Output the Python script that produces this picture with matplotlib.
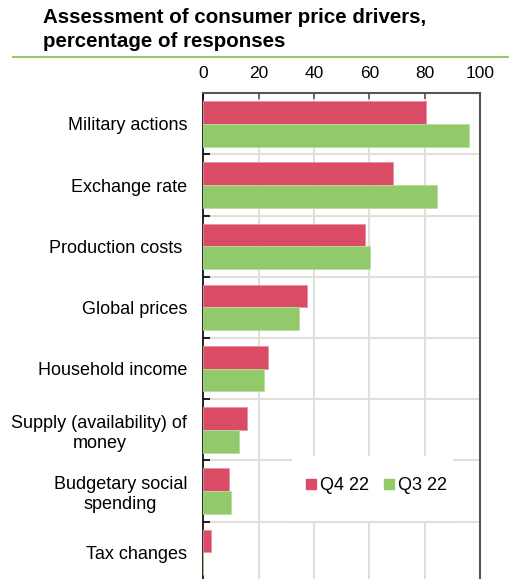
import numpy as np
import matplotlib
matplotlib.use('Agg')
from matplotlib import pyplot as plt
from matplotlib.lines import Line2D
from matplotlib.patches import Rectangle

plt.rcParams['font.family'] = ['Liberation Sans', 'DejaVu Sans']

categories = ['Military actions', 'Exchange rate', 'Production costs ', 'Global prices',
              'Household income', 'Supply (availability) of\nmoney',
              'Budgetary social\nspending', 'Tax changes']
q4_22 = [80.5, 68.7, 58.4, 37.6, 23.4, 15.7, 9.2, 2.7]
q3_22 = [96.1, 84.6, 60.2, 34.6, 21.8, 12.8, 10.1, 0.0]
series_names = ['Q4 22', 'Q3 22']
x_ticks = [0, 20, 40, 60, 80, 100]

red = '#DA4C65'
green = '#92C96A'
grid_col = '#E0E0D8'

fig = plt.figure(figsize=(5.09, 5.79), dpi=100)
ax = fig.add_axes([0.3995, -0.0067, 0.5436, 0.8456])

y = np.arange(len(categories))
h = 0.37
ax.barh(y - h / 2, q4_22, height=h, color=red, edgecolor='#EE8FA0', linewidth=0.6, zorder=3)
ax.barh(y + h / 2, q3_22, height=h, color=green, edgecolor='#B8DDA0', linewidth=0.6, zorder=3)

ax.set_xlim(0, 100)
ax.set_ylim(len(categories) - 0.5, -0.5)
ax.xaxis.tick_top()
ax.set_xticks(x_ticks)
ax.tick_params(axis='x', direction='in', length=4, width=1.2, color='#555555',
               labelsize=12.5, pad=9)
ax.set_yticks(y)
ax.set_yticklabels(categories, fontsize=13, linespacing=1.25)
for lab in ax.get_yticklabels():
    lab.set_multialignment('center')
ax.tick_params(axis='y', which='major', length=0, pad=11.5)
ax.set_yticks(np.arange(0.5, len(categories) - 0.5, 1), minor=True)
ax.tick_params(axis='y', which='minor', direction='in', length=5, width=1.2, color='black')

for v in x_ticks[1:-1]:
    ax.axvline(v, color=grid_col, lw=1.5, zorder=1)
for b in np.arange(0.5, len(categories) - 0.5, 1):
    ax.axhline(b, color=grid_col, lw=1.5, zorder=1)

ax.spines['left'].set_color('black')
ax.spines['left'].set_linewidth(1.2)
ax.spines['top'].set_color('#555555')
ax.spines['top'].set_linewidth(1.5)
ax.spines['right'].set_color('#555555')
ax.spines['right'].set_linewidth(1.5)
ax.spines['bottom'].set_visible(False)

# white box behind the legend, hides the grid there
ax.add_patch(Rectangle((0.319, 0.127), 0.583, 0.132, transform=ax.transAxes,
                       facecolor='white', edgecolor='none', zorder=2))

handles = [Line2D([], [], marker='s', ls='', color=red, markersize=7.5),
           Line2D([], [], marker='s', ls='', color=green, markersize=7.5)]
leg = ax.legend(handles, series_names, loc='center', bbox_to_anchor=(0.624, 0.198),
                ncol=2, frameon=False, fontsize=13, handlelength=0.6, handletextpad=0.2,
                columnspacing=0.8, borderpad=0)
leg.set_zorder(4)

fig.text(0.085, 0.986, 'Assessment of consumer price drivers,\npercentage of responses',
         fontsize=14.8, fontweight='bold', va='top', ha='left', linespacing=1.3)
fig.add_artist(Line2D([13 / 509, 1], [1 - 56.5 / 579, 1 - 56.5 / 579], color='#92C96A', lw=1.5))

fig.savefig('out.png', dpi=100)
